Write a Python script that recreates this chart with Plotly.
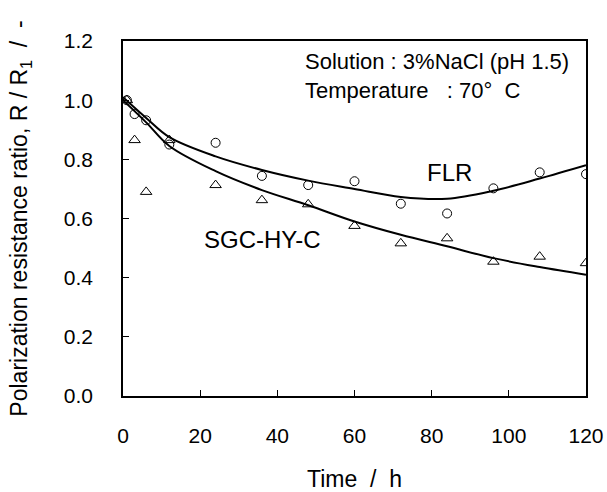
import plotly.graph_objects as go

# measured points
hours = [1, 3, 6, 12, 24, 36, 48, 60, 72, 84, 96, 108, 120]
flr = [1.00, 0.953, 0.932, 0.850, 0.856, 0.744, 0.713, 0.726, 0.650, 0.617, 0.702, 0.756, 0.750]
sgc = [1.00, 0.865, 0.690, 0.865, 0.713, 0.662, 0.648, 0.575, 0.516, 0.533, 0.454, 0.471, 0.449]

# fitted trend curves
fit_x = [0, 6, 12, 24, 36, 48, 60, 72, 84, 96, 108, 120]
flr_fit = [1.01, 0.94, 0.875, 0.81, 0.764, 0.728, 0.70, 0.673, 0.667, 0.694, 0.735, 0.78]
sgc_fit = [1.00, 0.925, 0.845, 0.76, 0.696, 0.645, 0.59, 0.545, 0.506, 0.466, 0.436, 0.41]

font = "Liberation Sans, Arial, sans-serif"

fig = go.Figure()
fig.add_trace(go.Scatter(x=fit_x, y=flr_fit, mode="lines", line=dict(color="black", width=2, shape="spline"), showlegend=False))
fig.add_trace(go.Scatter(x=fit_x, y=sgc_fit, mode="lines", line=dict(color="black", width=2, shape="spline"), showlegend=False))
fig.add_trace(go.Scatter(x=hours, y=flr, mode="markers",
                         marker=dict(symbol="circle-open", size=9, color="black", line=dict(width=1)), showlegend=False))
fig.add_trace(go.Scatter(x=hours, y=sgc, mode="markers",
                         marker=dict(symbol="triangle-up-open", size=10, color="black", line=dict(width=1)), showlegend=False))

fig.add_annotation(x=46.7, y=1.18, xanchor="left", yanchor="top",
                   text="Solution : 3%NaCl (pH 1.5)<br>Temperature   : 70\u00b0  C", align="left",
                   showarrow=False, font=dict(size=22, color="black", family=font))
fig.add_annotation(x=84.5, y=0.756, text="FLR", showarrow=False, font=dict(size=24, color="black", family=font))
fig.add_annotation(x=35.9, y=0.53, text="SGC-HY-C", showarrow=False, font=dict(size=24, color="black", family=font))

fig.update_layout(
    width=607, height=492,
    margin=dict(l=123, r=21, t=41, b=96),
    plot_bgcolor="white", paper_bgcolor="white",
    font=dict(family=font, size=21, color="black"),
)
fig.update_xaxes(range=[0, 120], tickvals=[0, 20, 40, 60, 80, 100, 120], ticks="inside", ticklen=6,
                 tickcolor="black", showline=True, linecolor="black", linewidth=1.5, mirror=True,
                 showgrid=False, zeroline=False, ticklabelstandoff=20, automargin=False,
                 title=dict(text="Time  /  h", standoff=26, font=dict(size=23)))
fig.update_yaxes(range=[0, 1.2], tickvals=[0, 0.2, 0.4, 0.6, 0.8, 1.0, 1.2], tickformat=".1f",
                 ticks="inside", ticklen=6, tickcolor="black", showline=True, linecolor="black",
                 linewidth=1.5, mirror=True, showgrid=False, zeroline=False, ticklabelstandoff=24,
                 automargin=False,
                 title=dict(text="Polarization resistance ratio, R / R<sub>1</sub>  /  -", standoff=30, font=dict(size=23)))

# drop the default page margin so the figure sits at the window's corner
fig.write_html("out.html", config={"displayModeBar": False},
               post_script="document.body.style.margin='0';")
